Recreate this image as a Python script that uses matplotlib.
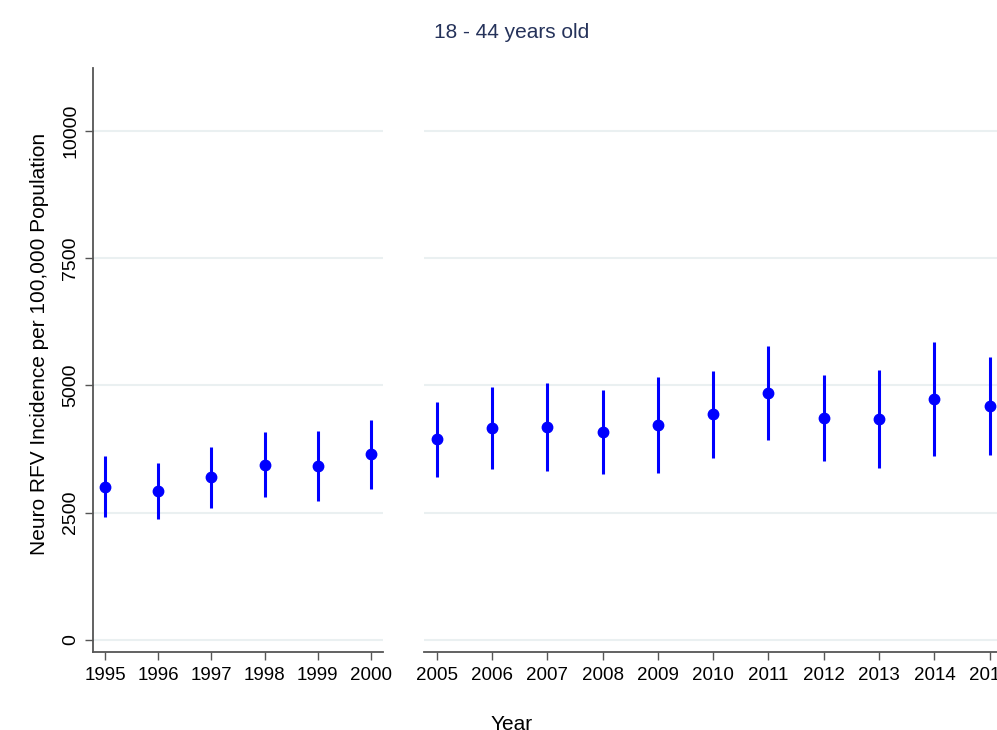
import matplotlib

matplotlib.use("Agg")
import matplotlib.pyplot as plt

plt.rcParams["font.family"] = ["Liberation Sans", "DejaVu Sans"]

# incidence per 100,000 with 95% CI, two survey periods
anos_a = [1995, 1996, 1997, 1998, 1999, 2000]
taxa_a = [3012, 2934, 3202, 3444, 3425, 3648]
inf_a = [2410, 2377, 2600, 2816, 2731, 2973]
sup_a = [3615, 3471, 3792, 4086, 4106, 4322]

anos_b = [2005, 2006, 2007, 2008, 2009, 2010, 2011, 2012, 2013, 2014, 2015]
taxa_b = [3942, 4171, 4185, 4093, 4230, 4434, 4859, 4368, 4335, 4741, 4604]
inf_b = [3202, 3366, 3327, 3268, 3287, 3569, 3936, 3523, 3373, 3615, 3641]
sup_b = [4676, 4970, 5049, 4912, 5167, 5291, 5782, 5206, 5304, 5861, 5560]

yticks = [0, 2500, 5000, 7500, 10000]

azul = "#0000ff"
grade = "#eaf0f1"
eixo = "#555555"

W, H = 997, 730
fig = plt.figure(figsize=(W / 100, H / 100), dpi=100)
fig.patch.set_facecolor("white")

ax1 = fig.add_axes([93 / W, 78 / H, 290 / W, 584 / H])
ax2 = fig.add_axes([424 / W, 78 / H, 578.4 / W, 584 / H])


def painel(ax, anos, taxa, inf, sup):
    ax.vlines(anos, inf, sup, color=azul, linewidth=2.2, zorder=3)
    ax.plot(anos, taxa, "o", color=azul, markersize=7.5, zorder=4)
    ax.set_xlim(anos[0] - 0.23, anos[-1] + 0.23)
    ax.set_ylim(-236, 11237)
    ax.set_xticks(anos)
    ax.set_yticks(yticks)
    ax.grid(axis="y", color=grade, linewidth=1.5, zorder=0)
    ax.set_axisbelow(True)
    for s in ["top", "right", "left"]:
        ax.spines[s].set_visible(False)
    ax.spines["bottom"].set_color(eixo)
    ax.spines["bottom"].set_linewidth(1.3)
    ax.tick_params(axis="x", length=6, width=1.0, color=eixo, labelsize=13.5,
                   pad=5)


painel(ax1, anos_a, taxa_a, inf_a, sup_a)
painel(ax2, anos_b, taxa_b, inf_b, sup_b)

ax1.spines["left"].set_visible(True)
ax1.spines["left"].set_color(eixo)
ax1.spines["left"].set_linewidth(1.3)
ax1.tick_params(axis="y", length=6, width=1.0, color=eixo, labelsize=14,
                pad=4)
for t in ax1.get_yticklabels():
    t.set_rotation(90)
    t.set_va("center")

ax2.tick_params(axis="y", left=False, labelleft=False)

fig.text(40 / W, 1 - 344 / H, "Neuro RFV Incidence per 100,000 Population",
         rotation=90, ha="center", va="center", fontsize=15)
fig.text(512 / W, 1 - 33 / H, "18 - 44 years old", ha="center", va="center",
         fontsize=15, color="#25325a")
fig.text(512 / W, 1 - 725 / H, "Year", ha="center", va="center", fontsize=15)

fig.savefig("out.png", dpi=100)
